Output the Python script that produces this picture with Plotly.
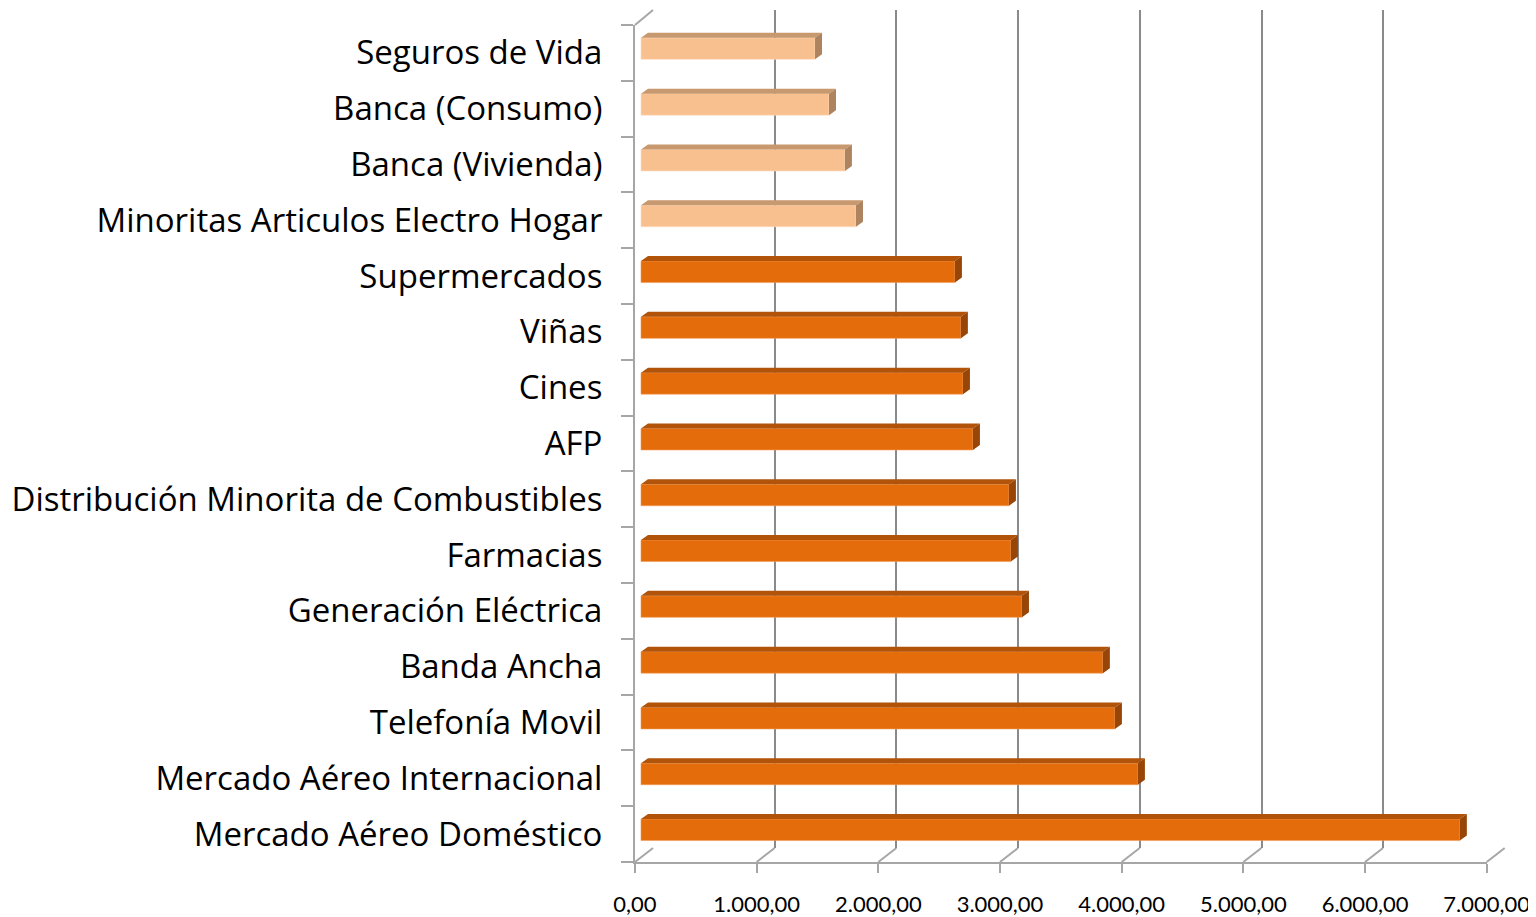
import plotly.graph_objects as go

# ---------------- data (top to bottom as shown) ----------------
categories = [
    "Seguros de Vida",
    "Banca (Consumo)",
    "Banca (Vivienda)",
    "Minoritas Articulos Electro Hogar",
    "Supermercados",
    "Viñas",
    "Cines",
    "AFP",
    "Distribución Minorita de Combustibles",
    "Farmacias",
    "Generación Eléctrica",
    "Banda Ancha",
    "Telefonía Movil",
    "Mercado Aéreo Internacional",
    "Mercado Aéreo Doméstico",
]
values = [1430, 1545, 1676, 1767, 2580, 2629, 2646, 2728,
          3024, 3040, 3131, 3796, 3895, 4084, 6730]
group = ["light"] * 4 + ["dark"] * 11

tick_values = [0, 1000, 2000, 3000, 4000, 5000, 6000, 7000]
tick_labels = ["0,00", "1.000,00", "2.000,00", "3.000,00",
               "4.000,00", "5.000,00", "6.000,00", "7.000,00"]

# ---------------- styling / geometry ----------------
PAGE_MARGIN = 8                  # default body margin of the html page
W, H = 1536 - PAGE_MARGIN, 917 - PAGE_MARGIN
XMAX = 7000
# front plane (screen pixels)
FX0, FX1 = 635, 1486.7
FY0, FY1 = 25, 862
# back plane (screen pixels)
BX0, BX1 = 653, 1505
BY0, BY1 = 10, 848

n = len(categories)
ux = XMAX / (FX1 - FX0)          # data units per pixel (x)
uy = n / (FY1 - FY0)             # category units per pixel (y)

BAR_START_PX = 6                 # bar front face sits slightly behind front plane
D = BAR_START_PX * ux
BAR_H = 21.5 * uy
SHIFT = 4.3 * uy
DX = 7 * ux
DY = 5 * uy

colors = {
    "light": dict(front="#F9C08F", top="#C8986E", side="#AE8460"),
    "dark": dict(front="#E46C0A", top="#B15309", side="#984607"),
}
GRID = "#8A8A8A"
WALL = "#A6A6A6"


def px_x(p):
    return (p - PAGE_MARGIN) / W


def px_y(p):
    return 1 - (p - PAGE_MARGIN) / H


# positions: bottom = 0
pos = [n - 1 - i for i in range(n)]

fig = go.Figure()

# dummy trace to register back subplot
fig.add_trace(go.Scatter(x=[None], y=[None], xaxis="x", yaxis="y",
                         showlegend=False, hoverinfo="skip"))

# front faces
fig.add_trace(go.Bar(
    orientation="h",
    y=pos, x=values, base=D,
    width=BAR_H, offset=-BAR_H / 2 + SHIFT,
    marker=dict(color=[colors[g]["front"] for g in group],
                line=dict(width=0.6, color=["#FDDCBF" if g == "light" else "#F39A55" for g in group])),
    xaxis="x2", yaxis="y2", showlegend=False, hoverinfo="skip",
))

# top and side faces
for g in ["light", "dark"]:
    tx, ty, sx, sy = [], [], [], []
    for p, v, gg in zip(pos, values, group):
        if gg != g:
            continue
        yt = p + SHIFT + BAR_H / 2
        yb = p + SHIFT - BAR_H / 2
        x0, x1 = D, D + v
        tx += [x0, x0 + DX, x1 + DX, x1, x0, None]
        ty += [yt, yt + DY, yt + DY, yt, yt, None]
        sx += [x1, x1 + DX, x1 + DX, x1, x1, None]
        sy += [yt, yt + DY, yb + DY, yb, yt, None]
    fig.add_trace(go.Scatter(x=tx, y=ty, mode="lines", fill="toself",
                             fillcolor=colors[g]["top"], line=dict(width=0),
                             xaxis="x2", yaxis="y2", showlegend=False, hoverinfo="skip"))
    fig.add_trace(go.Scatter(x=sx, y=sy, mode="lines", fill="toself",
                             fillcolor=colors[g]["side"], line=dict(width=0),
                             xaxis="x2", yaxis="y2", showlegend=False, hoverinfo="skip"))

# floor diagonals + left top diagonal
shapes = []
for v in tick_values:
    xf = FX0 + v / ux
    xb = BX0 + v / ux
    shapes.append(dict(type="line", xref="paper", yref="paper",
                       x0=px_x(xf), y0=px_y(FY1), x1=px_x(xb), y1=px_y(BY1),
                       line=dict(color=WALL, width=2), layer="below"))
shapes.append(dict(type="line", xref="paper", yref="paper",
                   x0=px_x(FX0), y0=px_y(FY0), x1=px_x(BX0), y1=px_y(BY0),
                   line=dict(color=WALL, width=2), layer="below"))

fig.update_layout(
    width=W, height=H,
    margin=dict(l=0, r=0, t=0, b=0, pad=0, autoexpand=False),
    paper_bgcolor="white",
    plot_bgcolor="rgba(0,0,0,0)",
    font=dict(family="Open Sans", color="black"),
    shapes=shapes,
    barmode="overlay",
    xaxis=dict(domain=[px_x(BX0), px_x(BX1)], range=[0, XMAX], anchor="y",
               tickvals=tick_values, showticklabels=False, ticks="",
               showgrid=True, gridcolor=GRID, gridwidth=2.4, automargin=False,
               zeroline=False, showline=False, fixedrange=True),
    yaxis=dict(domain=[px_y(BY1), px_y(BY0)], range=[0, 1], anchor="x",
               showgrid=False, zeroline=False, showticklabels=False, automargin=False,
               showline=False, ticks="", fixedrange=True),
    xaxis2=dict(domain=[px_x(FX0), px_x(FX1)], range=[0, XMAX], anchor="y2",
                tickmode="array", tickvals=tick_values, ticktext=tick_labels,
                ticks="outside", ticklen=9, tickwidth=2, tickcolor=WALL,
                showline=True, linecolor=WALL, linewidth=2,
                showgrid=False, zeroline=False, automargin=False,
                tickfont=dict(family="Lato", size=22, color="black"),
                ticklabelstandoff=13, fixedrange=True),
    yaxis2=dict(domain=[px_y(FY1), px_y(FY0)], range=[-0.5, n - 0.5], anchor="x2",
                tickmode="array", tickvals=pos, ticktext=categories,
                ticks="", showline=True, linecolor=WALL, linewidth=2,
                showgrid=False, zeroline=False, automargin=False,
                minor=dict(tickmode="array",
                           tickvals=[k - 0.5 for k in range(n + 1)],
                           ticks="outside", ticklen=12, tickwidth=2,
                           tickcolor=WALL, showgrid=False),
                tickfont=dict(family="Open Sans", size=33, color="black"),
                ticklabelstandoff=24, fixedrange=True),
)

fig.write_html("out.html")
